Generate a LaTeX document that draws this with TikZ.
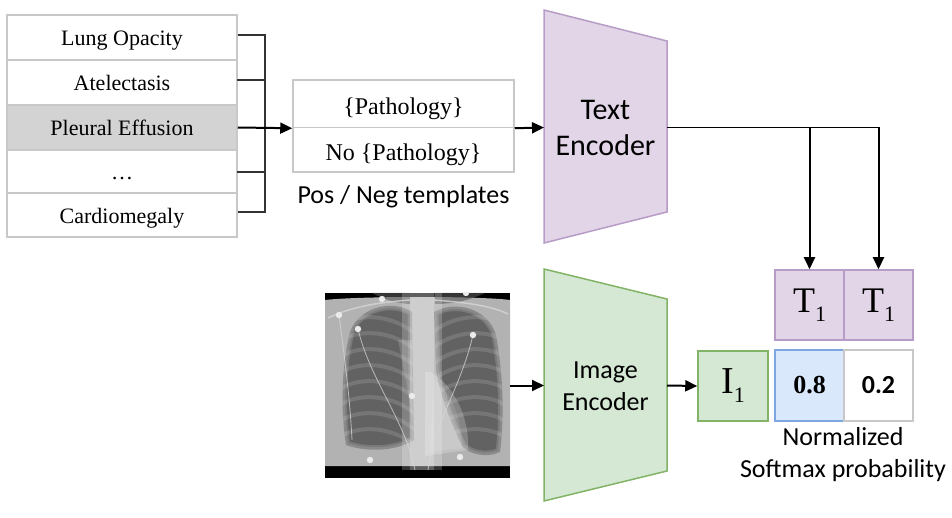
\documentclass[tikz,border=0pt]{standalone}
\usepackage{fontspec}
\setmainfont{Liberation Serif}
\newfontfamily\sansc{Carlito}
\usetikzlibrary{arrows.meta,calc}
\definecolor{pfill}{RGB}{225,213,231}
\definecolor{pdraw}{RGB}{184,156,200}
\definecolor{gfill}{RGB}{213,232,212}
\definecolor{gdraw}{RGB}{130,179,102}
\definecolor{bfill}{RGB}{218,232,252}
\definecolor{bdraw}{RGB}{126,166,224}
\definecolor{lgray}{RGB}{200,200,200}
\definecolor{rowgray}{RGB}{211,211,211}
\definecolor{bodygray}{RGB}{178,178,178}
\definecolor{lunggray}{RGB}{98,98,98}
\tikzset{
  listrow/.style={draw=lgray, line width=1.5pt, minimum width=230pt, inner sep=0pt, text height=17pt, text depth=0pt, font=\fontsize{22}{24}\selectfont},
  tmpl/.style={draw=lgray, line width=1.5pt, minimum width=221pt, inner sep=0pt, text height=21pt, text depth=0pt, font=\fontsize{24}{26}\selectfont},
  arr/.style={line width=2pt, -{Triangle[length=12pt,width=11pt]}},
  brk/.style={line width=1.2pt, draw=black!80},
  encp/.style={fill=pfill, draw=pdraw, line width=1.5pt},
  encg/.style={fill=gfill, draw=gdraw, line width=1.5pt},
  tbox/.style={fill=pfill, draw=pdraw, line width=1.5pt, minimum width=69pt, minimum height=70pt, inner sep=0pt, font=\fontsize{36}{36}\selectfont},
  ibox/.style={fill=gfill, draw=gdraw, line width=1.5pt, minimum width=70pt, minimum height=70pt, inner sep=0pt, font=\fontsize{38}{38}\selectfont},
  pbox/.style={line width=1.5pt, minimum width=69pt, minimum height=71pt, inner sep=0pt},
  sanslbl/.style={font=\sansc\fontsize{26}{32}\selectfont, align=center, inner sep=0pt},
  xwire/.style={draw=white!85!black, line width=0.8pt, opacity=0.75},
  rib/.style={draw=white, line width=4pt, opacity=0.13},
  soft/.style={draw=bodygray, line width=#1, opacity=0.3},
}
\newcommand{\subone}[1]{#1{\raisebox{-9pt}{\fontsize{22}{22}\selectfont 1}}}
\begin{document}
\begin{tikzpicture}[x=1pt,y=-1pt]
\useasboundingbox (0,0) rectangle (952,518);

% pathology list
\node[listrow, minimum height=45pt] (r1) at (122,37.5) {Lung Opacity};
\node[listrow, minimum height=45pt] (r2) at (122,82.5) {Atelectasis};
\node[listrow, minimum height=45pt, fill=rowgray] (r3) at (122,127.5) {Pleural Effusion};
\node[listrow, minimum height=43pt] (r4) at (122,171.5) {\dots};
\node[listrow, minimum height=44pt] (r5) at (122,215) {Cardiomegaly};

% bracket
\coordinate (b1) at (265,35);
\coordinate (b5) at (265,212);
\draw[brk] (r1.east |- b1) -- (b1) -- (b5) -- (r5.east |- b5);
\draw[brk] (237,80) -- (265,80);
\draw[brk] (237,172) -- (265,172);

% templates
\node[tmpl, minimum height=47.5pt] (t1) at (403.5,103.75) {\{Pathology\}};
\node[tmpl, minimum height=44.5pt] (t2) at (403.5,149.75) {No \{Pathology\}};
\node[sanslbl] (tl) at (403.5,197) {Pos / Neg templates};
\draw[arr] (r3.east) -- (t1.south west);

% text encoder
\coordinate (tetl) at (544,10);
\coordinate (tebl) at (544,243);
\coordinate (tetr) at (667,41);
\coordinate (tebr) at (667,212);
\draw[encp] (tetl) -- (tetr) -- (tebr) -- (tebl) -- cycle;
\node[font=\sansc\fontsize{30}{36}\selectfont, align=center] (te) at (605.5,128) {Text\\Encoder};
\coordinate (tein) at (544,127.5);
\coordinate (teout) at (667,127.5);
\draw[arr] (t1.south east) -- (tein);

% T boxes
\node[tbox] (Ta) at (809.5,305) {\subone{T}};
\node[tbox] (Tb) at (878.5,305) {\subone{T}};
\coordinate (j1) at (Ta.north |- teout);
\coordinate (j2) at (Tb.north |- teout);
\draw[line width=1.5pt] (teout) -- (j2);
\draw[arr] (j1) -- (Ta.north);
\draw[arr] (j2) -- (Tb.north);

% probabilities
\node[pbox, fill=bfill, draw=bdraw, font=\bfseries\fontsize{26}{26}\selectfont] (Pa) at (809.5,385.5) {0.8};
\node[pbox, fill=white, draw=lgray, font=\sansc\bfseries\fontsize{26}{26}\selectfont] (Pb) at (878.5,385.5) {0.2};
\node[sanslbl] (nl) at (843,455) {Normalized\\Softmax probability};

% image encoder
\coordinate (ietl) at (544,269);
\coordinate (iebl) at (544,501);
\coordinate (ietr) at (667,299);
\coordinate (iebr) at (667,471);
\draw[encg] (ietl) -- (ietr) -- (iebr) -- (iebl) -- cycle;
\node[font=\sansc\fontsize{26}{32}\selectfont, align=center] (ie) at (605.5,386) {Image\\Encoder};
\coordinate (iein) at (544,385.5);
\coordinate (ieout) at (667,385.5);

% I1
\node[ibox] (I1) at (733,386) {\subone{I}};
\draw[arr] (ieout) -- (I1.west);

% x-ray image
\node[minimum width=185pt, minimum height=185pt, inner sep=0pt] (xr) at (417.5,385.5) {};
\begin{scope}
\clip (325,293) rectangle (510,478);
\fill[black] (325,293) rectangle (510,478);
\fill[bodygray] (325,300) .. controls (360,296) and (480,296) .. (510,300) -- (510,466) -- (325,466) -- cycle;
\fill[black!65, opacity=0.6] (372,293) .. controls (385,300) and (400,304) .. (410,304) -- (410,293) -- cycle;
\fill[black!65, opacity=0.6] (435,293) -- (435,304) .. controls (455,304) and (470,300) .. (485,293) -- cycle;
% lungs
\def\llung{(350,332) .. controls (360,305) and (395,300) .. (412,312) -- (414,440) .. controls (395,452) and (365,452) .. (346,445) .. controls (340,405) and (342,365) .. (350,332) -- cycle}
\def\rlung{(434,312) .. controls (455,300) and (488,308) .. (496,335) .. controls (504,380) and (504,420) .. (500,452) .. controls (488,458) and (470,455) .. (462,446) .. controls (450,420) and (440,395) .. (436,370) -- cycle}
\fill[lunggray] \llung;
\fill[lunggray] \rlung;
\draw[soft=9pt] \llung;
\draw[soft=5pt] \llung;
\draw[soft=9pt] \rlung;
\draw[soft=5pt] \rlung;
% heart
\fill[white, opacity=0.22] (430,372) .. controls (455,385) and (470,420) .. (468,450) -- (425,456) -- (425,372) -- cycle;
\fill[white, opacity=0.12] (434,380) .. controls (452,392) and (462,420) .. (462,448) -- (430,452) -- cycle;
% mediastinum / spine
\fill[white, opacity=0.2] (402,293) rectangle (442,470);
\fill[white, opacity=0.22] (410,293) rectangle (434,470);
\fill[white, opacity=0.15] (398,340) .. controls (404,370) and (408,390) .. (412,420) -- (412,340) -- cycle;
% ribs
\begin{scope}
\clip \llung;
\foreach \i in {0,...,7}{
  \draw[rib] (340,325+16*\i) .. controls (360,312+16*\i) and (395,315+16*\i) .. (416,335+16*\i);
}
\end{scope}
\begin{scope}
\clip \rlung;
\foreach \i in {0,...,7}{
  \draw[rib] (430,335+16*\i) .. controls (450,315+16*\i) and (485,312+16*\i) .. (505,325+16*\i);
}
\end{scope}
% clavicles and wires
\draw[xwire, line width=1.5pt] (328,318) .. controls (355,305) and (385,302) .. (410,300);
\draw[xwire, line width=1.5pt] (434,300) .. controls (460,302) and (490,305) .. (508,314);
\draw[xwire] (358,329) .. controls (370,380) and (405,420) .. (415,470);
\draw[xwire] (473,335) .. controls (460,390) and (435,420) .. (428,470);
\draw[xwire] (339,315) .. controls (345,360) and (350,400) .. (352,440);
% electrodes
\foreach \p in {(382,299),(339,315),(358,329),(466,293),(473,335),(412,396),(370,460),(460,457)}{
  \fill[white!92!black] \p circle (3.2pt);
}
\end{scope}
\draw[arr] (xr.east) -- (iein);

\end{tikzpicture}
\end{document}
